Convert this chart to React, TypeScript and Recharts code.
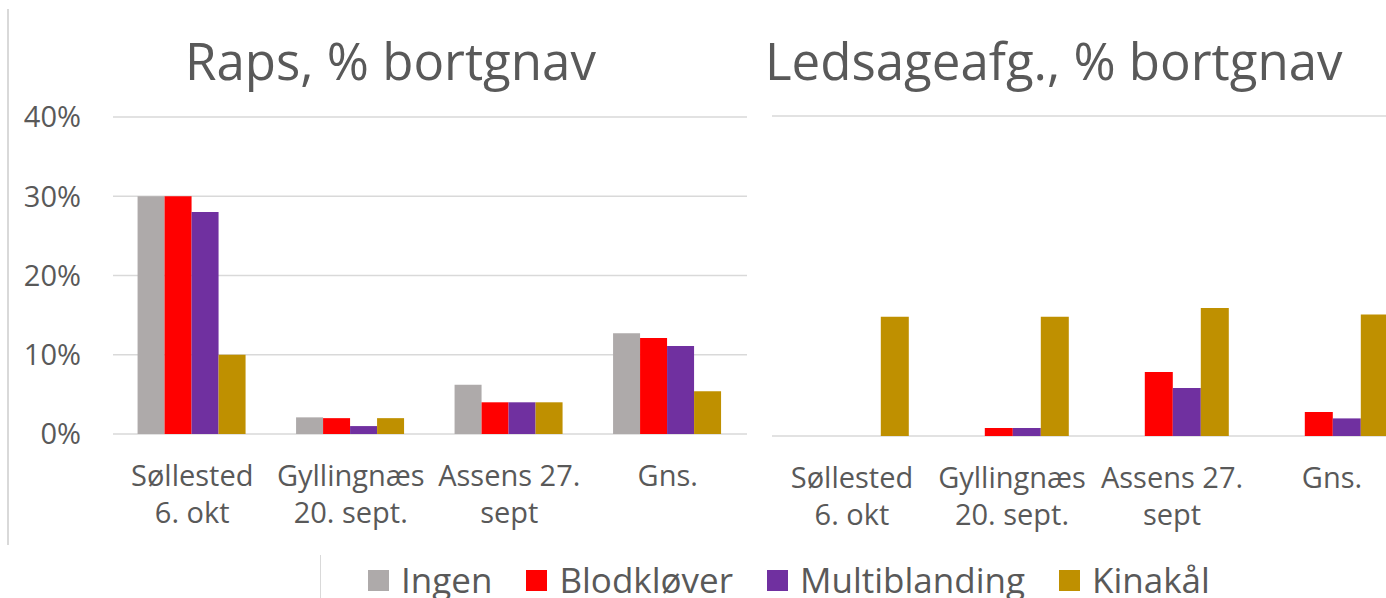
import { BarChart, Bar, XAxis, YAxis, CartesianGrid, Legend } from 'recharts';

const categories = ['Søllested\n6. okt', 'Gyllingnæs\n20. sept.', 'Assens 27.\nsept', 'Gns.'];
const seriesNames = ['Ingen', 'Blodkløver', 'Multiblanding', 'Kinakål'];
const seriesColors = ['#AEAAAA', '#FF0000', '#7030A0', '#BF9000'];
const yTicks = [0, 10, 20, 30, 40];

// Raps, % bortgnav
const rapsIngen = [30, 2.1, 6.2, 12.7];
const rapsBlodklover = [30, 2, 4, 12.1];
const rapsMulti = [28, 1, 4, 11.1];
const rapsKinakal = [10, 2, 4, 5.4];

// Ledsageafg., % bortgnav
const ledsIngen = [0, 0, 0, 0];
const ledsBlodklover = [0, 1, 8, 3];
const ledsMulti = [0, 1, 6, 2.2];
const ledsKinakal = [14.9, 14.9, 16, 15.2];

const buildRows = (cols: number[][]) =>
  categories.map((name, i) => {
    const row: Record<string, string | number> = { name };
    seriesNames.forEach((s, k) => {
      row[s] = cols[k][i];
    });
    return row;
  });

const rapsData = buildRows([rapsIngen, rapsBlodklover, rapsMulti, rapsKinakal]);
const ledsData = buildRows([ledsIngen, ledsBlodklover, ledsMulti, ledsKinakal]);

const FONT = '"Open Sans", "Noto Sans", sans-serif';
const TEXT = '#595959';
const GRID = '#d9d9d9';

const CategoryTick = ({ x, y, payload }: any) => {
  const lines = String(payload.value).split('\n');
  return (
    <text x={x} y={y} textAnchor="middle" fill={TEXT} fontSize={29} fontFamily={FONT}>
      {lines.map((l, i) => (
        <tspan key={i} x={x} dy={i === 0 ? 52 : 37}>
          {l}
        </tspan>
      ))}
    </text>
  );
};

// keep the legend in series order (recharts sorts it by name otherwise)
const LegendContent = ({ payload }: any) => {
  const items = [...(payload || [])].sort(
    (a: any, b: any) => seriesNames.indexOf(a.value) - seriesNames.indexOf(b.value)
  );
  return (
    <div style={{ display: 'flex', fontFamily: FONT, fontSize: 35, color: TEXT, lineHeight: '35px', whiteSpace: 'nowrap' }}>
      {items.map((p: any) => (
        <div key={p.value} style={{ display: 'flex', alignItems: 'flex-start', marginRight: 34 }}>
          <span style={{ width: 21, height: 21, background: p.color, marginTop: 8, marginRight: 12, display: 'inline-block' }} />
          <span>{p.value}</span>
        </div>
      ))}
    </div>
  );
};

const titleStyle = (left: number): React.CSSProperties => ({
  position: 'absolute',
  left,
  top: 35,
  fontFamily: FONT,
  fontSize: 51,
  lineHeight: 1,
  color: TEXT,
  whiteSpace: 'nowrap',
});

export default function App() {
  return (
    <div style={{ position: 'fixed', left: 0, top: 0, width: 1386, height: 598, overflow: 'hidden', background: '#fff' }}>
      <div style={{ position: 'absolute', left: 7, top: 9, width: 2, height: 536, background: GRID }} />
      <div style={{ position: 'absolute', left: 320, top: 555, width: 1, height: 43, background: GRID }} />

      <div style={{ position: 'absolute', left: 0, top: 0 }}>
        <BarChart width={760} height={598} data={rapsData} margin={{ top: 117, right: 13, bottom: 84, left: 0 }} barCategoryGap="15.5%" barGap={0}>
          <CartesianGrid vertical={false} stroke={GRID} strokeWidth={1.5} />
          <XAxis dataKey="name" axisLine={false} tickLine={false} tickSize={0} tickMargin={0} height={80} tick={<CategoryTick />} interval={0} />
          <YAxis
            domain={[0, 40]}
            ticks={yTicks}
            tickFormatter={(v) => `${v}%`}
            axisLine={false}
            tickLine={false}
            tickSize={0}
            tickMargin={32}
            width={113}
            tick={{ fill: TEXT, fontSize: 29, fontFamily: FONT }}
          />
          <Legend
            verticalAlign="middle"
            align="center"
            content={<LegendContent />}
            wrapperStyle={{ left: 368, top: 562, width: 1000, height: 36 }}
          />
          {seriesNames.map((s, k) => (
            <Bar key={s} dataKey={s} fill={seriesColors[k]} isAnimationActive={false} />
          ))}
        </BarChart>
      </div>

      <div style={{ position: 'absolute', left: 760, top: 0 }}>
        <BarChart width={660} height={598} data={ledsData} margin={{ top: 116, right: 8, bottom: 82, left: 12 }} barCategoryGap="15.5%" barGap={0}>
          <CartesianGrid vertical={false} stroke={GRID} strokeWidth={1.5} />
          <XAxis dataKey="name" axisLine={false} tickLine={false} tickSize={0} tickMargin={0} height={80} tick={<CategoryTick />} interval={0} />
          <YAxis domain={[0, 40]} ticks={yTicks} width={0} axisLine={false} tickLine={false} tick={false} />
          {seriesNames.map((s, k) => (
            <Bar key={s} dataKey={s} fill={seriesColors[k]} isAnimationActive={false} />
          ))}
        </BarChart>
      </div>

      <div style={titleStyle(185)}>Raps, % bortgnav</div>
      <div style={titleStyle(765)}>Ledsageafg., % bortgnav</div>
    </div>
  );
}
